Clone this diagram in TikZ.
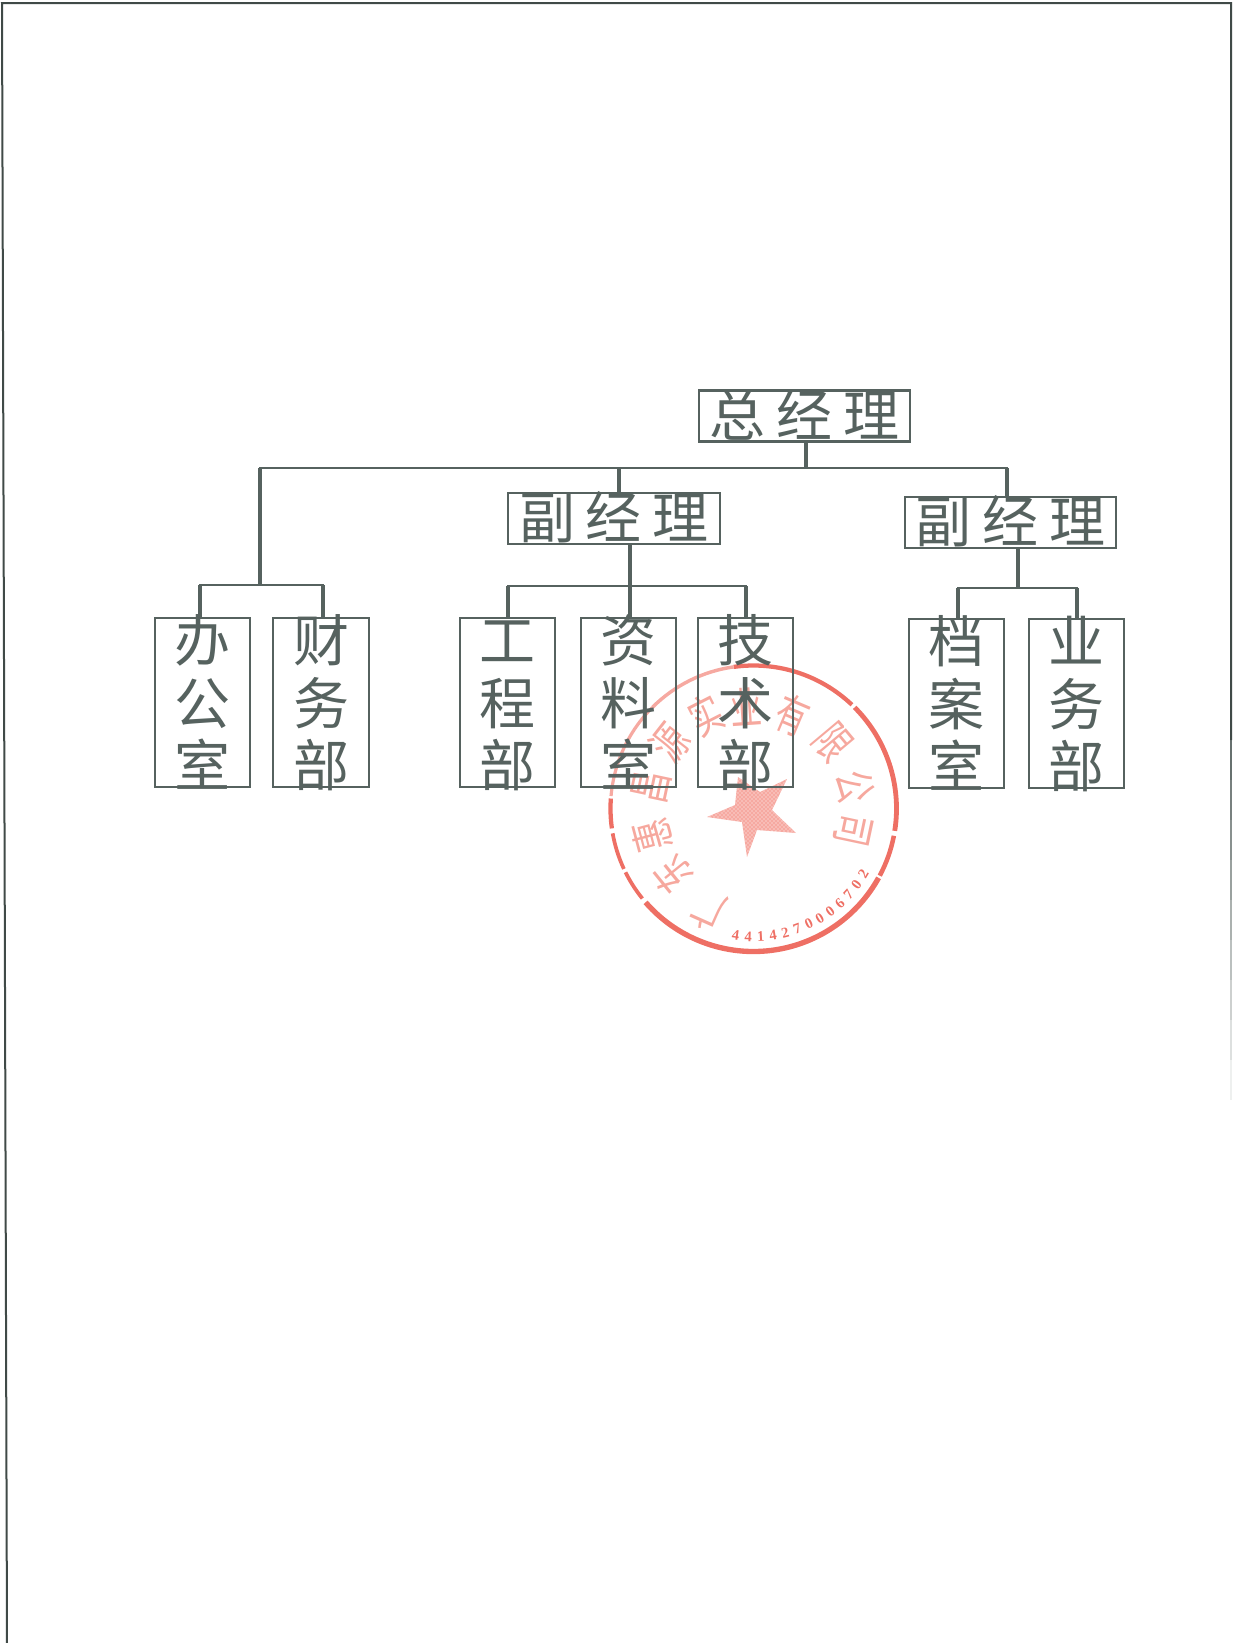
\documentclass[tikz,border=0pt]{standalone}
\usepackage{fontspec}
\usetikzlibrary{patterns}
\setmainfont{Noto Sans CJK SC}
\newfontfamily\numfont{Liberation Serif}
\newdimen\pu \pu=0.75pt
\definecolor{ink}{HTML}{56625F}
\definecolor{sealred}{HTML}{EE6F64}
\definecolor{sealpale}{HTML}{F6A9A1}
\definecolor{sealtext}{HTML}{F6A89E}
\tikzset{
  hbox/.style={draw=ink,line width=1.9pt,inner sep=0pt,minimum width=211*\pu,minimum height=51*\pu,text=ink,font=\fontsize{42pt}{42pt}\selectfont},
  vbox/.style={draw=ink,line width=1.9pt,inner sep=0pt,minimum width=95*\pu,minimum height=169*\pu,text=ink,font=\fontsize{42pt}{42pt}\selectfont},
  conn/.style={draw=ink,line width=3pt},
  bar/.style={draw=ink,line width=2.2pt,line cap=rect},
  sealchar/.style={text=sealtext,inner sep=0pt,font=\fontsize{33pt}{33pt}\selectfont},
  sealnum/.style={text=sealred,inner sep=0pt,font=\numfont\bfseries\fontsize{11pt}{11pt}\selectfont},
  frameline/.style={draw=ink!75!black,line width=1.5pt}
}
\newcommand{\tsp}{\hspace{8pt}}
\newcommand{\htxt}[1]{\raisebox{-15pt}[0pt][0pt]{#1}}
\newcommand{\vtxt}[3]{\makebox[0pt]{\raisebox{30.8pt}[0pt][0pt]{#1}}\makebox[0pt]{\raisebox{-16.2pt}[0pt][0pt]{#2}}\makebox[0pt]{\raisebox{-63.2pt}[0pt][0pt]{#3}}}
\begin{document}
\begin{tikzpicture}[x=0.75pt,y=-0.75pt]
\useasboundingbox (0,0) rectangle (1233,1643);
% page frame
\coordinate (fa) at (7,1643);
\coordinate (fb) at (2,3);
\coordinate (fc) at (1231,3);
\coordinate (fd) at (1231,740);
\draw[frameline] (fa) -- (fb) -- (fc) -- (fd);
\foreach \i [evaluate=\i as \ya using 740+(\i-1)*40, evaluate=\i as \yb using 740+\i*40, evaluate=\i as \op using 1-\i*0.1] in {1,...,9}
  \draw[draw=ink,line width=1.5pt,opacity=\op] (1231,\ya) -- (1231,\yb);
% seal
\begin{scope}[shift={(753.5,808.5)},yscale=-1]
  \foreach \a/\b/\w/\c in {-9/45/3.6pt/sealred,-28/-11/3.4pt/sealred,221/331/4pt/sealred,206.5/219/2.8pt/sealred,190/205/2.8pt/sealred,176/188/3.2pt/sealred,46.5/98/3.2pt/sealred,98/135/2.6pt/sealpale,135/175/2.4pt/sealpale}
    \draw[draw=\c,line width=\w] (\a:143) arc[start angle=\a,end angle=\b,radius=143];
  \foreach \n/\t/\a/\r in {c1/广/246/111,c2/东/219/105,c3/惠/195/105,c4/昌/168/104,c5/源/142/106,c6/实/117/105,c7/业/94/102,c8/有/67/101,c9/限/40/103,c10/公/12/104,c11/司/-12/102}
    \node[sealchar,rotate=\a-90] (\n) at (\a:\r) {\scalebox{0.72}[1]{\t}};
  \foreach \n/\t/\a in {n1/4/262,n2/4/267.6,n3/1/273.2,n4/4/278.8,n5/2/284.4,n6/7/290,n7/0/295.6,n8/0/301.2,n9/0/306.8,n10/6/312.4,n11/7/318,n12/0/323.6,n13/2/329.2}
    \node[sealnum,rotate=\a-270] (\n) at (\a:128) {\t};
\end{scope}
\fill[sealpale] (707,817) -- (735,805) -- (738,777) -- (760,792) -- (787,779) -- (772,810) -- (796,833) -- (757,830) -- (747,857) -- (742,822) -- cycle;
\fill[pattern=crosshatch dots,pattern color=white] (707,817) -- (735,805) -- (738,777) -- (760,792) -- (787,779) -- (772,810) -- (796,833) -- (757,830) -- (747,857) -- (742,822) -- cycle;
% boxes
\node[hbox] (gm) at (804.5,416) {\htxt{总\tsp 经\tsp 理}};
\node[hbox,minimum width=212*\pu] (vm1) at (614,518.5) {\htxt{副\tsp 经\tsp 理}};
\node[hbox] (vm2) at (1010.5,522.5) {\htxt{副\tsp 经\tsp 理}};
\node[vbox] (b1) at (202.5,702.5) {\vtxt{办}{公}{室}};
\node[vbox,minimum width=96*\pu] (b2) at (321,702.5) {\vtxt{财}{务}{部}};
\node[vbox] (b3) at (507.5,702.5) {\vtxt{工}{程}{部}};
\node[vbox] (b4) at (628.5,702.5) {\vtxt{资}{料}{室}};
\node[vbox] (b5) at (745.5,702.5) {\vtxt{技}{术}{部}};
\node[vbox] (b6) at (956.5,703.5) {\vtxt{档}{案}{室}};
\node[vbox] (b7) at (1076.5,703.5) {\vtxt{业}{务}{部}};
% junctions
\coordinate (j0) at (806,468);
\coordinate (jl) at (260,468);
\coordinate (jm) at (619,468);
\coordinate (jr) at (1007,468);
\coordinate (jlb) at (260,585);
\coordinate (jmb) at (630,586);
\coordinate (jrb) at (1018,588);
\coordinate (d1) at (200,585);
\coordinate (d2) at (323,585);
\coordinate (d3) at (508,586);
\coordinate (d5) at (746,586);
\coordinate (d6) at (958,588);
\coordinate (d7) at (1077,588);
% connectors
\draw[conn] (j0 |- gm.south) -- (j0);
\draw[bar] (jl) -- (jr);
\draw[conn] (jlb) -- (jl);
\draw[conn] (jr) -- (jr |- vm2.north);
\draw[conn] (jm) -- (jm |- vm1.north);
\draw[bar] (d1) -- (d2);
\draw[conn] (d1 |- b1.north) -- (d1);
\draw[conn] (d2) -- (d2 |- b2.north);
\draw[conn] (jmb |- vm1.south) -- (jmb |- b4.north);
\draw[bar] (d3) -- (d5);
\draw[conn] (d3 |- b3.north) -- (d3);
\draw[conn] (d5) -- (d5 |- b5.north);
\draw[conn] (jrb |- vm2.south) -- (jrb);
\draw[bar] (d6) -- (d7);
\draw[conn] (d6 |- b6.north) -- (d6);
\draw[conn] (d7) -- (d7 |- b7.north);
\end{tikzpicture}
\end{document}
